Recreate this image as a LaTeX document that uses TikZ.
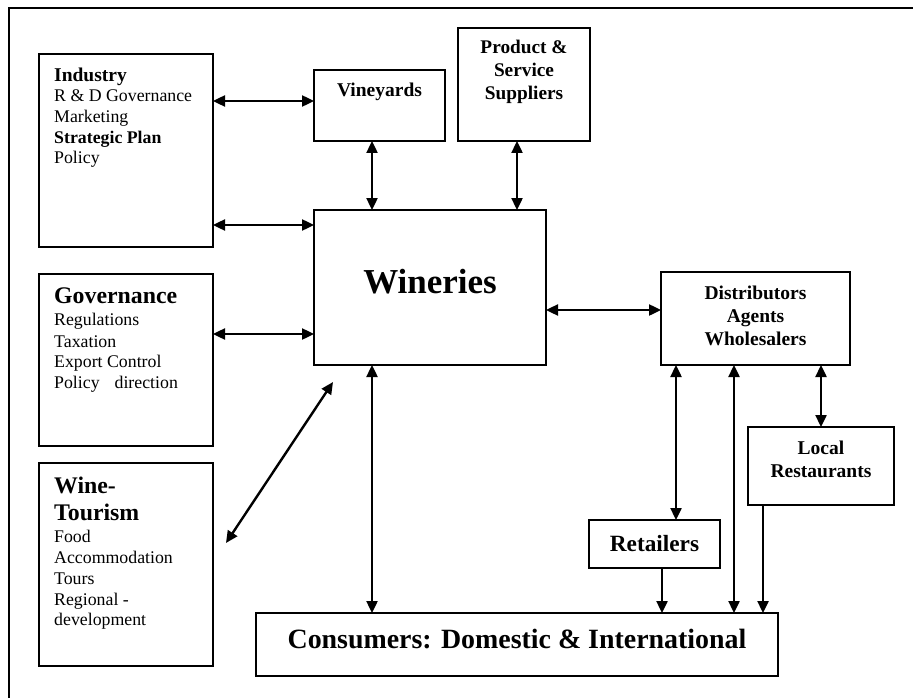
\documentclass[tikz,border=0pt]{standalone}
\usepackage{fontspec}
\setmainfont{Liberation Serif}
\usetikzlibrary{arrows.meta}
\newcommand\myfs[1]{\fontsize{#1}{#1}\selectfont}
\tikzset{
  box/.style={draw, line width=1.7pt, inner sep=0pt, outer sep=0pt, anchor=north west},
  txt/.style={inner sep=0pt, anchor=base west},
  ctxt/.style={inner sep=0pt, anchor=base},
  dbl/.style={line width=2.4pt, {Triangle[length=12pt,width=11pt]}-{Triangle[length=12pt,width=11pt]}},
  one/.style={line width=2.4pt, -{Triangle[length=12pt,width=11pt]}},
  frame/.style={line width=2.2pt}
}
\begin{document}
\begin{tikzpicture}[x=1pt,y=-1pt]
\useasboundingbox (0,0) rectangle (913,698);
% outer frame (cropped)
\coordinate (fa) at (9,698);
\coordinate (fb) at (9,8);
\coordinate (fc) at (913,8);
\draw[frame] (fa) -- (fb) -- (fc);
% boxes
\node[box, minimum width=174pt, minimum height=193pt] (ind) at (39,54) {};
\node[box, minimum width=174pt, minimum height=172pt] (gov) at (39,274) {};
\node[box, minimum width=174pt, minimum height=203pt] (tour) at (39,463) {};
\node[box, minimum width=131pt, minimum height=71pt] (vine) at (314,70) {};
\node[box, minimum width=132pt, minimum height=113pt] (supp) at (458,28) {};
\node[box, minimum width=232pt, minimum height=155pt] (wine) at (314,210) {};
\node[box, minimum width=189pt, minimum height=93pt] (dist) at (661,272) {};
\node[box, minimum width=146pt, minimum height=78pt] (local) at (748,427) {};
\node[box, minimum width=131pt, minimum height=48pt] (ret) at (589,520) {};
\node[box, minimum width=522pt, minimum height=63pt] (cons) at (256,613) {};
% texts: Industry
\node[txt, font=\bfseries\myfs{19.5}] (indt0) at (54,82) {Industry};
\node[txt, font=\myfs{17.8}] (indt1) at (54,102) {R \& D Governance};
\node[txt, font=\myfs{17.8}] (indt2) at (54,123) {Marketing};
\node[txt, font=\bfseries\myfs{17.8}] (indt3) at (54,143) {Strategic Plan};
\node[txt, font=\myfs{17.8}] (indt4) at (54,164) {Policy};
% Governance
\node[txt, font=\bfseries\myfs{23.8}] (govt0) at (54,303) {Governance};
\node[txt, font=\myfs{17.8}] (govt1) at (54,325) {Regulations};
\node[txt, font=\myfs{17.8}] (govt2) at (54,347) {Taxation};
\node[txt, font=\myfs{17.8}] (govt3) at (54,367) {Export Control};
\node[txt, font=\myfs{17.8}] (govt4) at (54,388) {Policy\hspace*{10.5pt} direction};
% Wine-Tourism
\node[txt, font=\bfseries\myfs{23.8}] (tourt0) at (54,493) {Wine-};
\node[txt, font=\bfseries\myfs{23.8}] (tourt1) at (54,520) {Tourism};
\node[txt, font=\myfs{17.8}] (tourt2) at (54,542) {Food};
\node[txt, font=\myfs{17.8}] (tourt3) at (54,563) {Accommodation};
\node[txt, font=\myfs{17.8}] (tourt4) at (54,584) {Tours};
\node[txt, font=\myfs{17.8}] (tourt5) at (54,605) {Regional -};
\node[txt, font=\myfs{17.8}] (tourt6) at (54,625) {development};
% centred labels
\node[ctxt, font=\bfseries\myfs{19.5}] (vinet) at (379.5,97) {Vineyards};
\node[ctxt, font=\bfseries\myfs{19.3}] (suppt0) at (524,54) {Product \&};
\node[ctxt, font=\bfseries\myfs{19.3}] (suppt1) at (524,77) {Service};
\node[ctxt, font=\bfseries\myfs{19.3}] (suppt2) at (524,100) {Suppliers};
\node[ctxt, font=\bfseries\myfs{35}] (winet) at (430,293) {Wineries};
\node[ctxt, font=\bfseries\myfs{19.5}] (distt0) at (755.5,299) {Distributors};
\node[ctxt, font=\bfseries\myfs{19.5}] (distt1) at (755.5,322) {Agents};
\node[ctxt, font=\bfseries\myfs{19.5}] (distt2) at (755.5,345) {Wholesalers};
\node[ctxt, font=\bfseries\myfs{19.5}] (localt0) at (821,454) {Local};
\node[ctxt, font=\bfseries\myfs{19.5}] (localt1) at (821,477) {Restaurants};
\node[ctxt, font=\bfseries\myfs{23.3}] (rett) at (654.5,551) {Retailers};
\node[ctxt, font=\bfseries\myfs{27.9}] (const) at (517,648) {Consumers: Domestic \& International};
% connectors
\draw[dbl] (ind.east |- 0,101) -- (vine.west |- 0,101);
\draw[dbl] (ind.east |- 0,225) -- (wine.west |- 0,225);
\draw[dbl] (gov.east |- 0,334) -- (wine.west |- 0,334);
\draw[dbl] (372,0 |- vine.south) -- (372,0 |- wine.north);
\draw[dbl] (517,0 |- supp.south) -- (517,0 |- wine.north);
\draw[dbl] (wine.east |- 0,310) -- (dist.west |- 0,310);
\draw[dbl] (372,0 |- wine.south) -- (372,0 |- cons.north);
\coordinate (diagA) at (333,382);
\coordinate (diagB) at (226,543);
\draw[dbl] (diagA) -- (diagB);
\draw[dbl] (676,0 |- dist.south) -- (676,0 |- ret.north);
\draw[dbl] (734,0 |- dist.south) -- (734,0 |- cons.north);
\draw[dbl] (821,0 |- dist.south) -- (821,0 |- local.north);
\draw[one] (662,0 |- ret.south) -- (662,0 |- cons.north);
\draw[one] (763,0 |- local.south) -- (763,0 |- cons.north);
\end{tikzpicture}
\end{document}
